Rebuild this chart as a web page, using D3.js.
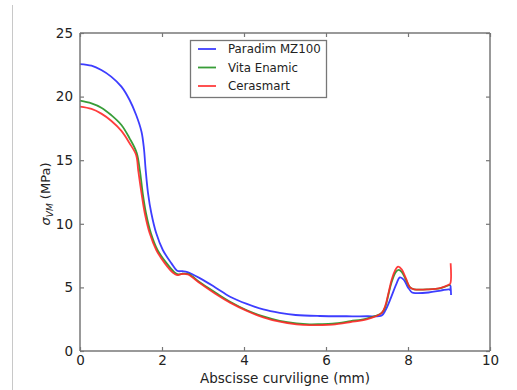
<!DOCTYPE html>
<html><head><meta charset="utf-8">
<script src="https://cdn.jsdelivr.net/npm/d3@7"></script>
<style>body{margin:0;background:#fff}svg{display:block}</style>
</head><body>
<script>
const seriesNames = ["Paradim MZ100", "Vita Enamic", "Cerasmart"];
const seriesColors = ["#2828ff", "#229222", "#ff2828"];

const blueX = [0,0.28,0.52,0.76,1.01,1.21,1.37,1.50,1.56,1.60,1.66,1.74,1.86,2.02,2.23,2.37,2.5,2.62,2.93,3.3,3.66,4.07,4.47,4.87,5.26,5.85,6.5,7.0,7.36,7.45,7.56,7.72,7.8,7.9,8.0,8.1,8.2,8.5,8.8,9.0,9.03,9.04,9.05];
const blueY = [22.56,22.43,22.09,21.57,20.78,19.73,18.55,17.24,15.9,14.3,12.4,10.83,9.25,7.94,6.89,6.31,6.27,6.2,5.71,5.0,4.27,3.7,3.27,3.0,2.83,2.75,2.73,2.73,2.8,3.2,4.0,5.3,5.79,5.6,5.0,4.6,4.55,4.6,4.75,4.85,4.8,5.15,4.4];

const greenX = [0,0.28,0.52,0.76,1.01,1.21,1.38,1.46,1.53,1.61,1.73,1.89,2.1,2.3,2.4,2.5,2.65,2.93,3.3,3.66,4.07,4.47,4.87,5.28,5.6,5.85,6.16,6.6,6.99,7.36,7.45,7.52,7.6,7.7,7.77,7.85,7.95,8.05,8.15,8.5,8.8,8.98,9.03];
const greenY = [19.68,19.47,19.13,18.55,17.77,16.72,15.6,14.2,12.4,10.83,9.25,7.94,6.95,6.2,6.02,6.08,6.05,5.38,4.6,3.87,3.2,2.72,2.37,2.17,2.1,2.11,2.15,2.35,2.55,3.0,3.5,4.4,5.4,6.2,6.37,6.2,5.6,5.0,4.85,4.85,4.95,5.15,5.2];

const redX = [0,0.28,0.52,0.76,1.01,1.21,1.37,1.42,1.5,1.58,1.70,1.86,2.07,2.27,2.37,2.47,2.63,2.93,3.3,3.66,4.07,4.47,4.87,5.28,5.6,5.85,6.16,6.6,6.99,7.36,7.45,7.52,7.6,7.68,7.76,7.85,7.95,8.05,8.15,8.5,8.8,8.98,9.03,9.04];
const redY = [19.21,19.03,18.66,18.1,17.3,16.33,15.4,14.2,12.4,10.83,9.25,7.94,6.89,6.15,5.97,6.05,6.02,5.32,4.5,3.8,3.15,2.65,2.3,2.1,2.03,2.04,2.08,2.28,2.49,3.0,3.6,4.5,5.58,6.3,6.63,6.4,5.7,5.0,4.85,4.85,4.97,5.19,5.3,6.9];

const xTicks = [0,2,4,6,8,10];
const yTicks = [0,5,10,15,20,25];

(function(){
const W = 517, H = 390;
const svg = d3.select("body").append("svg").attr("width", W).attr("height", H);

svg.append("line").attr("x1",12.5).attr("x2",12.5).attr("y1",5).attr("y2",390)
  .attr("stroke","#c8c8c8").attr("stroke-width",1);

const mL = 80, mR = 490, mT = 33, mB = 351;
const x = d3.scaleLinear().domain([0,10]).range([mL,mR]);
const y = d3.scaleLinear().domain([0,25]).range([mB,mT]);

const frameColor = "#777";
const font = "DejaVu Sans, sans-serif";

const line = d3.line().x(d=>x(d[0])).y(d=>y(d[1])).curve(d3.curveCatmullRom.alpha(0.5));
const data = [d3.zip(blueX, blueY), d3.zip(greenX, greenY), d3.zip(redX, redY)];
const g = svg.append("g");
data.forEach((d,i)=>{
  g.append("path").attr("d", line(d)).attr("fill","none")
   .attr("stroke", seriesColors[i]).attr("stroke-width",1.8)
   .attr("stroke-linejoin","round").attr("stroke-opacity",0.9);
});

const axB = d3.axisBottom(x).tickValues(xTicks).tickSize(-4).tickPadding(4).tickFormat(d3.format("d"));
const axT = d3.axisTop(x).tickValues(xTicks).tickSize(-4).tickFormat("");
const axL = d3.axisLeft(y).tickValues(yTicks).tickSize(-4).tickPadding(7).tickFormat(d3.format("d"));
const axR = d3.axisRight(y).tickValues(yTicks).tickSize(-4).tickFormat("");
function style(sel){
  sel.selectAll("path.domain").attr("stroke", frameColor).attr("stroke-width",1.5);
  sel.selectAll(".tick line").attr("stroke", frameColor).attr("stroke-width",1.2);
  sel.selectAll(".tick text").attr("fill","#222").style("font-family",font).style("font-size","13.5px");
}
svg.append("g").attr("transform",`translate(0,${mB})`).call(axB).call(style).call(s=>s.selectAll("path.domain").attr("d",`M${mL},0H${mR}`));
svg.append("g").attr("transform",`translate(0,${mT})`).call(axT).call(style).call(s=>s.selectAll("path.domain").attr("d",`M${mL},0H${mR}`));
svg.append("g").attr("transform",`translate(${mL},0)`).call(axL).call(style).call(s=>s.selectAll("path.domain").attr("d",`M0,${mT}V${mB}`));
svg.append("g").attr("transform",`translate(${mR},0)`).call(axR).call(style).call(s=>s.selectAll("path.domain").attr("d",`M0,${mT}V${mB}`));

svg.append("text").attr("x",285).attr("y",383).attr("text-anchor","middle")
  .style("font-family",font).style("font-size","13.5px").attr("fill","#222")
  .text("Abscisse curviligne (mm)");
const yl = svg.append("text").attr("transform","translate(50,194) rotate(-90)").attr("text-anchor","middle")
  .style("font-family",font).style("font-size","13px").attr("fill","#222");
yl.append("tspan").style("font-style","italic").text("σ");
yl.append("tspan").attr("dy",3).style("font-size","9px").style("font-style","italic").text("VM");
yl.append("tspan").attr("dy",-3).text(" (MPa)");

const lg = svg.append("g");
lg.append("rect").attr("x",190.5).attr("y",40.5).attr("width",136).attr("height",57)
  .attr("fill","#fff").attr("stroke",frameColor).attr("stroke-width",1.3);
seriesNames.forEach((n,i)=>{
  const yy = 49 + i*18.5;
  lg.append("line").attr("x1",198).attr("x2",216).attr("y1",yy).attr("y2",yy)
    .attr("stroke",seriesColors[i]).attr("stroke-width",1.8).attr("stroke-opacity",0.9);
  lg.append("text").attr("x",228).attr("y",yy+4).style("font-family",font).style("font-size","11.8px")
    .attr("fill","#222").text(n);
});
})();
</script>
</body></html>
